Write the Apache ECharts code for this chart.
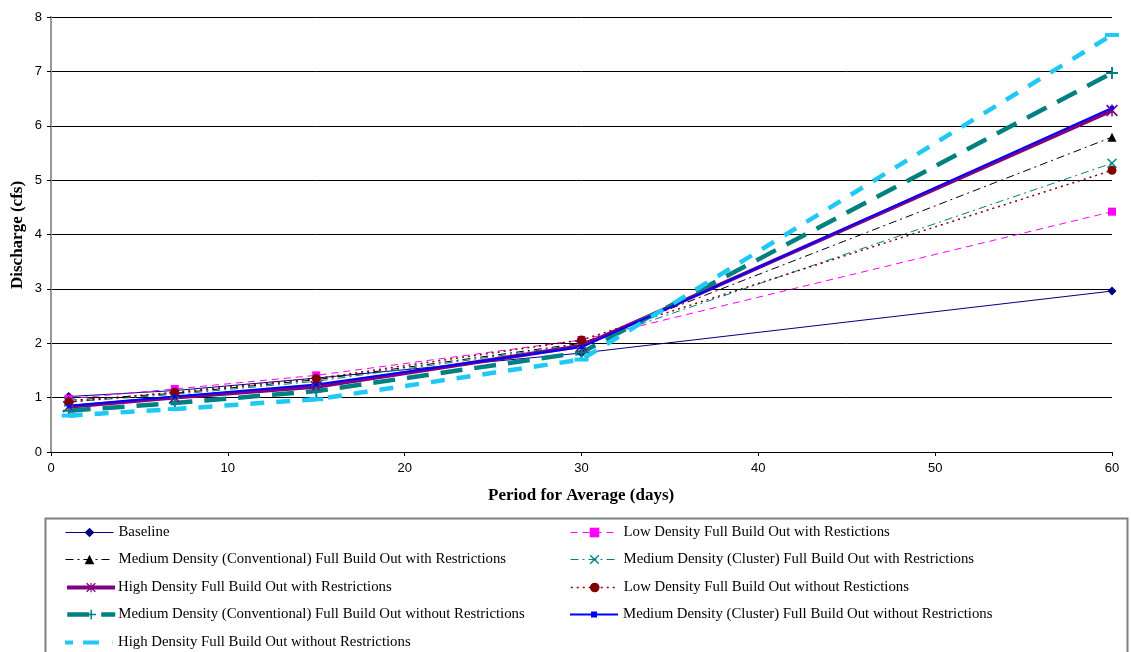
<!DOCTYPE html>
<html>
<head>
<meta charset="utf-8">
<script src="https://cdn.jsdelivr.net/npm/echarts@6/dist/echarts.min.js"></script>
<style>
  html, body { margin: 0; padding: 0; background: #fff; }
  #chart { width: 1131px; height: 652px; }
</style>
</head>
<body>
<div id="chart"></div>
<script>
// Averaging periods (days)
const periods = [1, 7, 15, 30, 60];

// Discharge (cfs) per scenario
const baseline          = [1.02, 1.13, 1.36, 1.82, 2.96];
const lowWith           = [0.98, 1.16, 1.41, 2.06, 4.42];
const medConvWith       = [0.95, 1.08, 1.33, 2.00, 5.79];
const medClusterWith    = [0.92, 1.06, 1.30, 1.98, 5.31];
const highWith          = [0.83, 1.00, 1.20, 1.95, 6.28];
const lowWithout        = [0.92, 1.10, 1.35, 2.06, 5.18];
const medConvWithout    = [0.76, 0.90, 1.12, 1.83, 6.97];
const medClusterWithout = [0.85, 1.02, 1.24, 1.93, 6.33];
const highWithout       = [0.67, 0.79, 0.97, 1.70, 7.67];

const names = [
  'Baseline',
  'Low Density Full Build Out with Restictions',
  'Medium Density (Conventional) Full Build Out with Restrictions',
  'Medium Density (Cluster) Full Build Out with Restrictions',
  'High Density Full Build Out with Restrictions',
  'Low Density Full Build Out without Restictions',
  'Medium Density (Conventional) Full Build Out without Restrictions',
  'Medium Density (Cluster) Full Build Out without Restrictions',
  'High Density Full Build Out without Restrictions'
];

const xTicks = { min: 0, max: 60, interval: 10 };
const yTicks = { min: 0, max: 8, interval: 1 };

const pair = arr => periods.map((p, i) => [p, arr[i]]);

const X_SYM = 'path://M0,1 L1,0 L5,4 L9,0 L10,1 L6,5 L10,9 L9,10 L5,6 L1,10 L0,9 L4,5 Z';
const STAR_SYM = 'path://M0,1 L1,0 L5,4 L9,0 L10,1 L6,5 L10,9 L9,10 L5,6 L1,10 L0,9 L4,5 Z M4.4,0 L5.6,0 L5.6,10 L4.4,10 Z';
const PLUS_SYM = 'path://M4.2,0 L5.8,0 L5.8,4.2 L10,4.2 L10,5.8 L5.8,5.8 L5.8,10 L4.2,10 L4.2,5.8 L0,5.8 L0,4.2 L4.2,4.2 Z';

// Custom legend keys for the two series whose markers blend into the line
const KEY_CLUSTER_WO = 'path://M0,2 L21,2 L21,0 L27,0 L27,2 L48,2 L48,4 L27,4 L27,6 L21,6 L21,4 L0,4 Z';
const KEY_HIGH_WO = 'path://M0,0 L8,0 L8,4 L0,4 Z M18,0 L34,0 L34,4 L18,4 Z M47.6,0 L48,0 L48,4 L47.6,4 Z';

const styles = [
  { color: '#000080', width: 1,   type: 'solid',       symbol: 'diamond',  size: 9 },
  { color: '#FF00FF', width: 1,   type: [7, 5],        symbol: 'rect',     size: 8 },
  { color: '#000000', width: 1,   type: [8, 4, 2, 4],  symbol: 'triangle', size: 9 },
  { color: '#008080', width: 1,   type: [8, 4, 2, 4],  symbol: X_SYM,      size: 10 },
  { color: '#800080', width: 4,   type: 'solid',       symbol: STAR_SYM,   size: 12 },
  { color: '#800000', width: 1.5, type: [2, 4],        symbol: 'circle',   size: 9 },
  { color: '#008080', width: 4.5, type: [22, 12],      symbol: PLUS_SYM,   size: 12 },
  { color: '#0000FF', width: 2,   type: 'solid',       symbol: 'rect',     size: 4 },
  { color: '#1FC8F5', width: 4.5, type: [14, 12],      symbol: 'rect',     size: [14, 4] }
];
const dataSets = [baseline, lowWith, medConvWith, medClusterWith, highWith,
                  lowWithout, medConvWithout, medClusterWithout, highWithout];

const series = dataSets.map((d, i) => ({
  name: names[i], type: 'line', data: pair(d),
  symbol: styles[i].symbol, symbolSize: styles[i].size, showSymbol: true,
  lineStyle: { color: styles[i].color, width: styles[i].width, type: styles[i].type },
  itemStyle: { color: styles[i].color, borderWidth: 0 },
  emphasis: { disabled: true },
  animation: false, z: 3
}));

// Legend: two columns, filled row by row
const rowCenters = [531, 558, 586, 613, 641];
const colLeft = [65, 570];
const legends = names.map((n, i) => {
  const item = { name: n, lineStyle: { width: styles[i].width, type: styles[i].type, color: styles[i].color } };
  if (i === 7) item.icon = KEY_CLUSTER_WO;
  if (i === 8) item.icon = KEY_HIGH_WO;
  const thick = styles[i].width >= 4 && i !== 8;
  return {
    left: colLeft[i % 2],
    top: rowCenters[Math.floor(i / 2)] - 6,
    padding: 0,
    itemWidth: 48, itemHeight: 12,
    selectedMode: false,
    textStyle: { fontFamily: 'Liberation Serif', fontSize: 14.8, color: '#000',
                 padding: [0, 0, 0, thick ? -2 : 0] },
    data: [item]
  };
});

const chart = echarts.init(document.getElementById('chart'), null, { renderer: 'canvas' });
chart.setOption({
  backgroundColor: '#ffffff',
  animation: false,
  grid: { left: 51, right: 19, top: 17, bottom: 200, containLabel: false },
  xAxis: {
    type: 'value', min: xTicks.min, max: xTicks.max, interval: xTicks.interval,
    axisLine: { show: true, onZero: false, lineStyle: { color: '#000', width: 1 } },
    axisTick: { show: true, length: 4, lineStyle: { color: '#000' } },
    axisLabel: { margin: 10, fontFamily: 'Liberation Sans', fontSize: 13, color: '#000' },
    splitLine: { show: false }
  },
  yAxis: [{
    type: 'value', min: yTicks.min, max: yTicks.max, interval: yTicks.interval,
    axisLine: { show: true, onZero: false, lineStyle: { color: '#000', width: 1 } },
    axisTick: { show: true, length: 4, lineStyle: { color: '#000' } },
    axisLabel: { margin: 9, fontFamily: 'Liberation Sans', fontSize: 13, color: '#000' },
    splitLine: { show: true, lineStyle: { color: '#000', width: 1 } }
  }, {
    type: 'value', position: 'right', min: yTicks.min, max: yTicks.max, interval: yTicks.interval,
    axisLine: { show: true, lineStyle: { color: '#999', width: 2 } },
    axisTick: { show: false }, axisLabel: { show: false }, splitLine: { show: false }
  }],
  legend: legends,
  graphic: [
    {
      type: 'rect', left: 43, top: 516, silent: true,
      shape: { width: 1082, height: 150 },
      style: { fill: 'none', stroke: '#808080', lineWidth: 2 }
    },
    {
      type: 'text', left: 488, top: 487, silent: true,
      style: { text: 'Period for Average (days)', font: 'bold 17px "Liberation Serif"', fill: '#000' }
    },
    {
      type: 'text', rotation: Math.PI / 2, x: 9, y: 289, silent: true,
      style: { text: 'Discharge (cfs)', font: 'bold 17px "Liberation Serif"', fill: '#000' }
    }
  ],
  series
});
</script>
</body>
</html>
